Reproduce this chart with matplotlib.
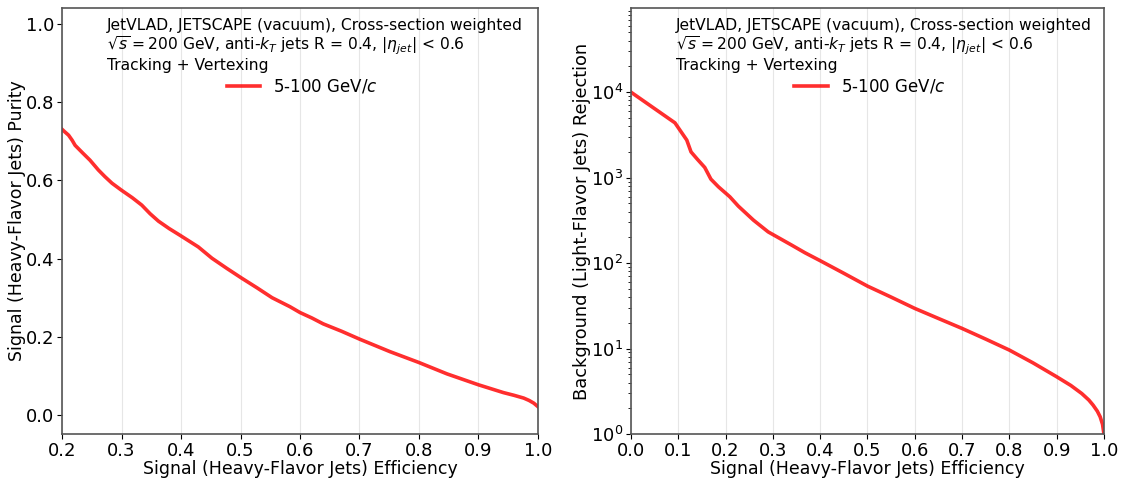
import matplotlib
matplotlib.use("Agg")
import matplotlib.pyplot as plt
import numpy as np

# Purity vs efficiency (left)
eff_p = [0.200, 0.205, 0.211, 0.217, 0.222, 0.235, 0.247, 0.261, 0.272, 0.284,
         0.300, 0.318, 0.334, 0.348, 0.362, 0.380, 0.398, 0.429, 0.452, 0.477,
         0.502, 0.528, 0.553, 0.583, 0.600, 0.620, 0.639, 0.670, 0.700, 0.751,
         0.800, 0.847, 0.900, 0.942, 0.960, 0.976, 0.985, 0.993, 1.000]
purity = [0.731, 0.724, 0.716, 0.703, 0.690, 0.670, 0.652, 0.627, 0.610, 0.593,
          0.575, 0.556, 0.537, 0.515, 0.496, 0.477, 0.460, 0.430, 0.401, 0.375,
          0.350, 0.325, 0.300, 0.277, 0.262, 0.248, 0.233, 0.214, 0.194, 0.162,
          0.134, 0.105, 0.077, 0.057, 0.050, 0.043, 0.037, 0.030, 0.021]

# Rejection vs efficiency (right)
eff_r = [0.000, 0.093, 0.105, 0.118, 0.127, 0.140, 0.156, 0.169, 0.185, 0.209,
         0.227, 0.259, 0.290, 0.340, 0.368, 0.401, 0.450, 0.500, 0.550, 0.600,
         0.650, 0.700, 0.750, 0.800, 0.850, 0.900, 0.930, 0.953, 0.968, 0.977,
         0.986, 0.992, 0.997, 1.000]
rejection = [10000, 4375, 3500, 2750, 2000, 1650, 1316, 960, 780, 597,
             464, 318, 232, 162, 132, 106, 76, 53.8, 40, 29.5,
             22.5, 17.2, 12.9, 9.6, 6.8, 4.68, 3.7, 2.98, 2.5, 2.18,
             1.85, 1.59, 1.3, 1.0]

xticks_left = [0.2, 0.3, 0.4, 0.5, 0.6, 0.7, 0.8, 0.9, 1.0]
xticks_right = [0.0, 0.1, 0.2, 0.3, 0.4, 0.5, 0.6, 0.7, 0.8, 0.9, 1.0]
legend_label = "5-100 GeV/$c$"
info_text = ("JetVLAD, JETSCAPE (vacuum), Cross-section weighted\n"
             "$\\sqrt{s} = 200$ GeV, anti-$k_{T}$ jets R = 0.4, $|\\eta_{jet}|$ < 0.6\n"
             "Tracking + Vertexing")

fig = plt.figure(figsize=(11.34, 4.83), dpi=100)
ax1 = fig.add_axes([0.0547, 0.1014, 0.4197, 0.8816])
ax2 = fig.add_axes([0.5564, 0.1014, 0.4171, 0.8816])

line_kw = dict(color="red", alpha=0.82, lw=2.6)

ax1.plot(eff_p, purity, label=legend_label, **line_kw)
ax1.set_xlim(0.2, 1.0)
ax1.set_ylim(-0.049, 1.041)
ax1.set_xticks(xticks_left)
ax1.set_yticks([0.0, 0.2, 0.4, 0.6, 0.8, 1.0])
ax1.set_xlabel("Signal (Heavy-Flavor Jets) Efficiency", fontsize=12.5, labelpad=0)
ax1.set_ylabel("Signal (Heavy-Flavor Jets) Purity", fontsize=12.5, labelpad=0)

ax2.plot(eff_r, rejection, label=legend_label, **line_kw)
ax2.set_yscale("log")
ax2.set_xlim(0.0, 1.0)
ax2.set_ylim(1.0, 9.6e4)
ax2.set_xticks(xticks_right)
ax2.set_xlabel("Signal (Heavy-Flavor Jets) Efficiency", fontsize=12.5, labelpad=0)
ax2.set_ylabel("Background (Light-Flavor Jets) Rejection", fontsize=12.8, labelpad=0)

for ax in (ax1, ax2):
    ax.tick_params(axis="both", which="major", labelsize=13, pad=2)
    ax.grid(True, axis="x", color="#e6e6e6", lw=0.8)
    ax.set_axisbelow(True)
    for s in ax.spines.values():
        s.set_color("#555555")
        s.set_linewidth(1.2)
    ax.text(0.095, 0.978, info_text, transform=ax.transAxes, fontsize=11.2,
            va="top", ha="left", linespacing=1.12)
    ax.legend(loc="center", bbox_to_anchor=(0.505, 0.815), frameon=False,
              fontsize=12, handlelength=2.0)

fig.savefig("out.png", dpi=100)
